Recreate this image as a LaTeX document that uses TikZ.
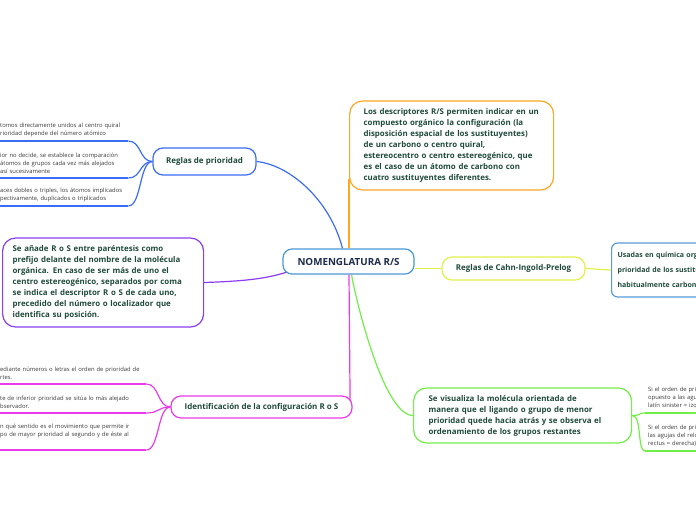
\documentclass[tikz,border=0pt]{standalone}
\usepackage{fontspec}
\setmainfont{Open Sans}
\definecolor{blueA}{HTML}{3B6CF6}
\definecolor{orangeA}{HTML}{FFA722}
\definecolor{purpleA}{HTML}{8B3DF0}
\definecolor{ygreenA}{HTML}{E2F04A}
\definecolor{rblueA}{HTML}{5B9BD5}
\definecolor{greenA}{HTML}{72EE4A}
\definecolor{magA}{HTML}{E93BE9}
\definecolor{cblueA}{HTML}{4A98D6}
\definecolor{tgreen}{HTML}{1F4A3A}
\definecolor{navyA}{HTML}{1C2C4C}
\definecolor{leafgray}{HTML}{3A3A3A}
\pgfdeclarelayer{bg}
\pgfsetlayers{bg,main}
\begin{document}
\begin{tikzpicture}[x=1pt,y=-1pt,
  bigbox/.style={draw, line width=1.2pt, rounded corners=13pt, fill=white, inner ysep=0pt, align=left, anchor=west,
    font=\fontsize{7.9}{11}\selectfont\bfseries, text=tgreen},
  topic/.style={draw, line width=1.2pt, rounded corners=10pt, fill=white, inner sep=0pt,
    font=\fontsize{8}{9}\selectfont\bfseries, text=tgreen},
  leaf/.style={inner xsep=0pt, inner ysep=4pt, align=left, anchor=south west,
    font=\fontsize{5.85}{8}\selectfont, text=leafgray},
  conn/.style={line width=1.2pt},
  uline/.style={line width=1.9pt}]
\useasboundingbox (0,0) rectangle (696,520);

% central node
\node[draw=cblueA, line width=1.2pt, rounded corners=9pt, fill=white, minimum width=131pt, minimum height=25pt,
  inner sep=0pt, font=\fontsize{9.8}{11}\selectfont\bfseries, text=navyA] (c) at (348.5,261.5) {NOMENGLATURA R/S};

% main branches
\node[topic, draw=blueA, minimum width=103pt, minimum height=27pt] (reg) at (204.5,161.5) {Reglas de prioridad};
\node[bigbox, draw=orangeA, inner xsep=14pt, text width=176pt, minimum height=89pt] (ora) at (349,145.5)
  {Los descriptores R/S permiten indicar en un\\compuesto orgánico la configuración (la\\disposición espacial de los sustituyentes)\\de un carbono o centro quiral,\\estereocentro o centro estereogénico, que\\es el caso de un átomo de carbono con\\cuatro sustituyentes diferentes.};
\node[bigbox, draw=purpleA, inner xsep=10pt, text width=181pt, minimum height=89pt] (pur) at (2,282.5)
  {Se añade R o S entre paréntesis como\\prefijo delante del nombre de la molécula\\orgánica. En caso de ser más de uno el\\centro estereogénico, separados por coma\\se indica el descriptor R o S de cada uno,\\precedido del número o localizador que\\identifica su posición.};
\node[topic, draw=ygreenA, minimum width=143pt, minimum height=23pt] (cahn) at (513.5,268.5) {Reglas de Cahn-Ingold-Prelog};
\node[draw=rblueA, line width=1.2pt, rounded corners=6pt, fill=white, anchor=west, minimum height=54pt,
  text width=100pt, inner xsep=6pt, align=left, font=\fontsize{7}{15}\selectfont\bfseries, text=tgreen] (use) at (611,270)
  {Usadas en química orga\\prioridad de los sustitu\\habitualmente carbono};
\node[bigbox, draw=greenA, inner xsep=15pt, text width=188pt, minimum height=55pt] (grn) at (413,415.5)
  {Se visualiza la molécula orientada de\\manera que el ligando o grupo de menor\\prioridad quede hacia atrás y se observa el\\ordenamiento de los grupos restantes};
\node[topic, draw=magA, minimum width=181pt, minimum height=22pt] (ident) at (261.5,407) {Identificación de la configuración R o S};

% leaves of Reglas de prioridad
\node[leaf, text width=128pt] (r1) at (0,141) {tomos directamente unidos al centro quiral\\rioridad depende del número atómico};
\node[leaf, text width=128pt] (r2) at (0,178) {ior no decide, se establece la comparación\\ átomos de grupos cada vez más alejados\\así sucesivamente};
\node[leaf, text width=128pt] (r3) at (0,206) {aces dobles o triples, los átomos implicados\\pectivamente, duplicados o triplicados};

% leaves of Identificacion
\node[leaf, text width=146pt] (i1) at (0,384) {ediante números o letras el orden de prioridad de\\rtes.};
\node[leaf, text width=146pt] (i2) at (0,413) {te de inferior prioridad se sitúa lo más alejado\\bservador.};
\node[leaf, text width=146pt, inner ysep=12pt] (i3) at (0,450) {n qué sentido es el movimiento que permite ir\\po de mayor prioridad al segundo y de éste al};

% leaves of green box
\node[leaf, text width=60pt, inner xsep=3pt] (g1) at (645,413) {Si el orden de prio\\opuesto a las agu\\latín sinister = izq};
\node[leaf, text width=60pt, inner xsep=3pt] (g2) at (645,451) {Si el orden de prio\\las agujas del relo\\rectus = derecha)};

\begin{pgfonlayer}{bg}
  \draw[conn, blueA] (reg.east) .. controls (290,165) and (330,200) .. ([xshift=-6pt]c.north);
  \draw[conn, orangeA] ([yshift=12pt]ora.south west) -- (ora.south west |- c.north);
  \draw[conn, purpleA] (pur.east) .. controls (250,281) and (270,278) .. ([xshift=9pt,yshift=4pt]c.south west);
  \draw[conn, ygreenA] ([yshift=-7pt]c.east) -- (cahn.west);
  \draw[conn, ygreenA] (cahn.east) -- (use.west);
  \draw[conn, greenA] ([xshift=3pt]c.south) .. controls (358,310) and (385,415.5) .. (grn.west);
  \draw[conn, magA] ([xshift=0.5pt]c.south) -- ([xshift=-2.5pt,yshift=4pt]ident.east);

  \foreach \l in {r1,r2,r3}{
    \draw[conn, blueA] (reg.west) .. controls +(-13,0) and +(13,0) .. (\l.south east);
    \draw[uline, blueA] (\l.south east) -- (\l.south west);
  }
  \foreach \l in {i1,i2,i3}{
    \draw[conn, magA] (ident.west) .. controls +(-13,0) and +(13,0) .. (\l.south east);
    \draw[uline, magA] (\l.south east) -- (\l.south west);
  }
  \foreach \l in {g1,g2}{
    \draw[conn, greenA] (grn.east) .. controls +(10,0) and +(-8,0) .. (\l.south west);
    \draw[uline, greenA] (\l.south west) -- (\l.south east);
  }
\end{pgfonlayer}
\end{tikzpicture}
\end{document}
